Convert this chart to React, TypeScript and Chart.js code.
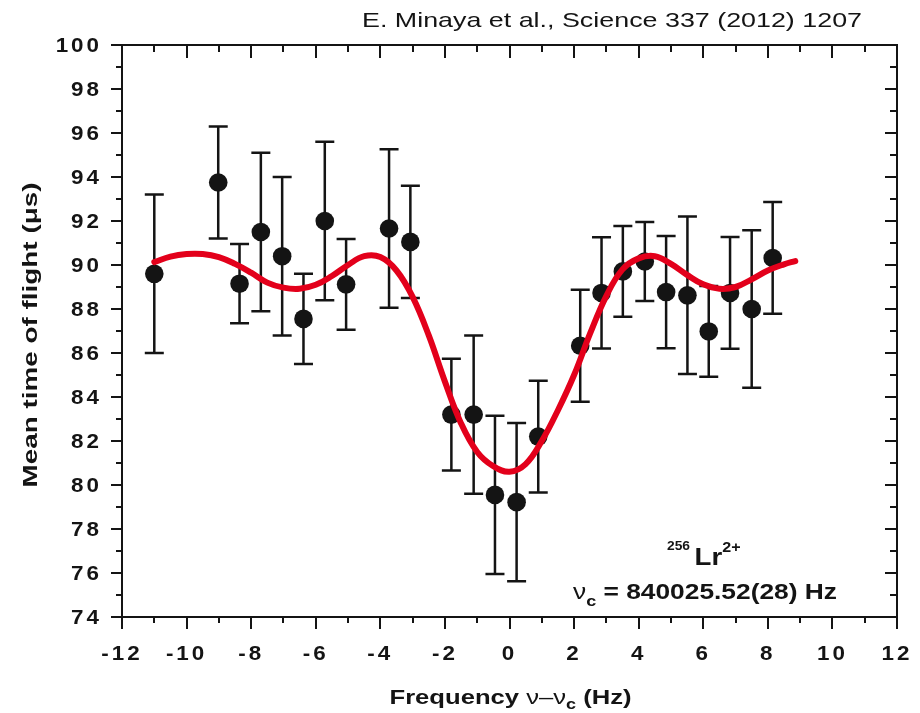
import { useEffect, useRef } from "react";
import { Chart, registerables } from "chart.js";

Chart.register(...registerables);

// ---- measured data (frequency offset in Hz, mean time of flight in µs, error in µs)
const freq = [-11.0, -9.02, -8.36, -7.7, -7.04, -6.38, -5.72, -5.06, -3.73, -3.07, -1.8, -1.11, -0.45, 0.22, 0.89, 2.19, 2.85, 3.51, 4.19, 4.85, 5.51, 6.17, 6.83, 7.5, 8.15];
const tof = [89.6, 93.75, 89.15, 91.5, 90.4, 87.55, 92.0, 89.12, 91.66, 91.05, 83.2, 83.2, 79.55, 79.22, 82.2, 86.33, 88.73, 89.71, 90.16, 88.77, 88.62, 86.98, 88.73, 88.0, 90.32];
const tofErr = [3.6, 2.55, 1.8, 3.6, 3.6, 2.05, 3.6, 2.06, 3.6, 2.55, 2.54, 3.6, 3.6, 3.6, 2.54, 2.55, 2.53, 2.06, 1.8, 2.55, 3.58, 2.06, 2.54, 3.58, 2.54];

// ---- fitted curve
const fitFreq = [-11, -10.5, -10, -9.5, -9, -8.5, -8, -7.5, -7, -6.5, -6, -5.5, -5, -4.5, -4, -3.5, -3, -2.5, -2, -1.5, -1, -0.5, 0, 0.5, 1, 1.5, 2, 2.5, 3, 3.5, 4, 4.5, 5, 5.5, 6, 6.5, 7, 7.5, 8, 8.5, 8.85];
const fitTof = [90.13, 90.38, 90.5, 90.5, 90.36, 90.05, 89.65, 89.2, 88.97, 88.92, 89.1, 89.5, 90.0, 90.4, 90.36, 89.75, 88.55, 86.8, 84.7, 82.8, 81.5, 80.85, 80.6, 80.95, 82.0, 83.4, 85.0, 86.9, 88.6, 89.8, 90.3, 90.4, 90.05, 89.55, 89.12, 88.92, 89.0, 89.35, 89.75, 90.03, 90.18];

// ---- axes ticks
const xMajorTicks = [-12, -10, -8, -6, -4, -2, 0, 2, 4, 6, 8, 10, 12];
const xMinorTicks = [-11, -9, -7, -5, -3, -1, 1, 3, 5, 7, 9, 11];
const yMajorTicks = [74, 76, 78, 80, 82, 84, 86, 88, 90, 92, 94, 96, 98, 100];
const yMinorTicks = [75, 77, 79, 81, 83, 85, 87, 89, 91, 93, 95, 97, 99];

const titleText = "E. Minaya et al., Science 337 (2012) 1207";
const yTitle = "Mean time of flight (\u03bcs)";

const FAM = '"Liberation Sans", Arial, Helvetica, sans-serif';
const INK = "#141414";
const RED = "#e3001b";

type Run = { s: string; font: string; dy?: number; gap?: number };

function runsWidth(ctx: CanvasRenderingContext2D, runs: Run[]) {
  let w = 0;
  for (const r of runs) {
    ctx.font = r.font;
    w += ctx.measureText(r.s).width + (r.gap || 0);
  }
  return w;
}

function drawRuns(
  ctx: CanvasRenderingContext2D,
  runs: Run[],
  x: number,
  y: number,
  align: "left" | "center" | "right",
  sx: number,
  targetWidth?: number
) {
  const raw = runsWidth(ctx, runs);
  const scale = targetWidth ? targetWidth / raw : sx;
  const w = raw * scale;
  const x0 = align === "left" ? x : align === "center" ? x - w / 2 : x - w;
  ctx.save();
  ctx.translate(x0, y);
  ctx.scale(scale, 1);
  ctx.fillStyle = INK;
  ctx.textAlign = "left";
  ctx.textBaseline = "alphabetic";
  let cx = 0;
  for (const r of runs) {
    ctx.font = r.font;
    ctx.fillText(r.s, cx + (r.gap || 0), r.dy || 0);
    cx += ctx.measureText(r.s).width + (r.gap || 0);
  }
  ctx.restore();
}

function drawSpaced(
  ctx: CanvasRenderingContext2D,
  s: string,
  x: number,
  y: number,
  align: "center" | "right",
  font: string,
  sx: number,
  spacing: number
) {
  ctx.save();
  ctx.font = font;
  ctx.fillStyle = INK;
  ctx.textAlign = "left";
  ctx.textBaseline = "alphabetic";
  const chars = s.split("");
  const widths = chars.map((c) => ctx.measureText(c).width * sx);
  const total = widths.reduce((a, b) => a + b, 0) + spacing * (chars.length - 1);
  let cx = align === "center" ? x - total / 2 : x - total;
  chars.forEach((c, i) => {
    ctx.save();
    ctx.translate(cx, y);
    ctx.scale(sx, 1);
    ctx.fillText(c, 0, 0);
    ctx.restore();
    cx += widths[i] + spacing;
  });
  ctx.restore();
}

const decorPlugin = {
  id: "decor",
  beforeDatasetsDraw(chart: any) {
    const { ctx, scales } = chart;
    const xs = scales.x;
    const ys = scales.y;
    ctx.save();
    ctx.strokeStyle = INK;
    ctx.lineWidth = 2.5;
    ctx.lineCap = "butt";
    for (let i = 0; i < freq.length; i++) {
      const px = xs.getPixelForValue(freq[i]);
      const top = ys.getPixelForValue(tof[i] + tofErr[i]);
      const bot = ys.getPixelForValue(tof[i] - tofErr[i]);
      ctx.beginPath();
      ctx.moveTo(px, top);
      ctx.lineTo(px, bot);
      ctx.moveTo(px - 9.5, top);
      ctx.lineTo(px + 9.5, top);
      ctx.moveTo(px - 9.5, bot);
      ctx.lineTo(px + 9.5, bot);
      ctx.stroke();
    }
    ctx.restore();
  },
  afterDraw(chart: any) {
    const { ctx, scales, chartArea } = chart;
    const xs = scales.x;
    const ys = scales.y;
    const { left, right, top, bottom } = chartArea;
    ctx.save();
    ctx.strokeStyle = INK;
    ctx.lineWidth = 2;
    ctx.strokeRect(left, top, right - left, bottom - top);

    ctx.beginPath();
    for (const v of xMajorTicks) {
      const p = Math.round(xs.getPixelForValue(v));
      ctx.moveTo(p, bottom);
      ctx.lineTo(p, bottom + 12);
      ctx.moveTo(p, top);
      ctx.lineTo(p, top + 13);
    }
    for (const v of xMinorTicks) {
      const p = Math.round(xs.getPixelForValue(v));
      ctx.moveTo(p, bottom);
      ctx.lineTo(p, bottom + 6);
      ctx.moveTo(p, top);
      ctx.lineTo(p, top + 7);
    }
    for (const v of yMajorTicks) {
      const p = Math.round(ys.getPixelForValue(v));
      ctx.moveTo(left, p);
      ctx.lineTo(left - 11, p);
      ctx.moveTo(right, p);
      ctx.lineTo(right - 12, p);
    }
    for (const v of yMinorTicks) {
      const p = Math.round(ys.getPixelForValue(v));
      ctx.moveTo(left, p);
      ctx.lineTo(left - 6, p);
      ctx.moveTo(right, p);
      ctx.lineTo(right - 7, p);
    }
    ctx.stroke();

    const tickFont = `bold 20px ${FAM}`;
    for (const v of xMajorTicks) {
      const p = xs.getPixelForValue(v);
      drawSpaced(ctx, String(v), p - 1.5, bottom + 42.5, "center", tickFont, 1.12, 3);
    }
    for (const v of yMajorTicks) {
      const p = ys.getPixelForValue(v);
      drawSpaced(ctx, String(v), left - 23, p + 7.3, "right", tickFont, 1.12, 3);
    }

    drawRuns(
      ctx,
      [
        { s: "Frequency ", font: `bold 20px ${FAM}` },
        { s: "\u03bd\u2013\u03bd", font: `20px ${FAM}` },
        { s: "c", font: `bold 14px ${FAM}`, dy: 5 },
        { s: " (Hz)", font: `bold 20px ${FAM}` },
      ],
      (left + right) / 2 + 1,
      704,
      "center",
      1,
      242
    );

    ctx.save();
    ctx.translate(37, (top + bottom) / 2 + 4);
    ctx.rotate(-Math.PI / 2);
    drawRuns(ctx, [{ s: yTitle, font: `bold 20px ${FAM}` }], 0, 0, "center", 1, 305);
    ctx.restore();

    drawRuns(ctx, [{ s: titleText, font: `21px ${FAM}` }], 862, 27, "right", 1, 500);

    drawRuns(
      ctx,
      [
        { s: "256", font: `bold 12px ${FAM}`, dy: -15 },
        { s: "Lr", font: `bold 24px ${FAM}`, gap: 4 },
        { s: "2+", font: `bold 14px ${FAM}`, dy: -13 },
      ],
      667,
      565,
      "left",
      1.15
    );
    drawRuns(
      ctx,
      [
        { s: "\u03bd", font: `22px ${FAM}` },
        { s: "c", font: `bold 15px ${FAM}`, dy: 7 },
        { s: " = 840025.52(28) Hz", font: `bold 22px ${FAM}` },
      ],
      573,
      599,
      "left",
      1,
      264
    );
    ctx.restore();
  },
};

export default function App() {
  const ref = useRef<HTMLCanvasElement>(null);
  useEffect(() => {
    const canvas = ref.current!;
    const chart = new Chart(canvas, {
      type: "scatter",
      data: {
        datasets: [
          {
            type: "line",
            label: "fit",
            data: fitFreq.map((x, i) => ({ x, y: fitTof[i] })),
            borderColor: RED,
            borderWidth: 6,
            pointRadius: 0,
            tension: 0.4,
            borderCapStyle: "round",
            borderJoinStyle: "round",
            fill: false,
            order: 0,
          } as any,
          {
            type: "scatter",
            label: "data",
            data: freq.map((x, i) => ({ x, y: tof[i] })),
            backgroundColor: INK,
            borderWidth: 0,
            pointRadius: 9.3,
            pointHoverRadius: 9.3,
            order: 1,
          } as any,
        ],
      },
      options: {
        responsive: false,
        animation: false,
        events: [],
        layout: { padding: { top: 45, right: 23, bottom: 0, left: 0 } },
        plugins: {
          legend: { display: false },
          tooltip: { enabled: false },
          title: { display: false },
        },
        scales: {
          x: {
            type: "linear",
            min: -12,
            max: 12,
            grid: { display: false },
            border: { display: false },
            ticks: { display: false, stepSize: 1 },
            afterFit: (s: any) => {
              s.height = 96;
            },
          },
          y: {
            type: "linear",
            min: 74,
            max: 100,
            grid: { display: false },
            border: { display: false },
            ticks: { display: false, stepSize: 1 },
            afterFit: (s: any) => {
              s.width = 122;
            },
          },
        },
      } as any,
      plugins: [decorPlugin],
    });
    return () => chart.destroy();
  }, []);
  return (
    <div style={{ position: "fixed", left: 0, top: 0, width: 920, height: 713, background: "#fff" }}>
      <canvas ref={ref} width={920} height={713} style={{ display: "block" }} />
    </div>
  );
}
